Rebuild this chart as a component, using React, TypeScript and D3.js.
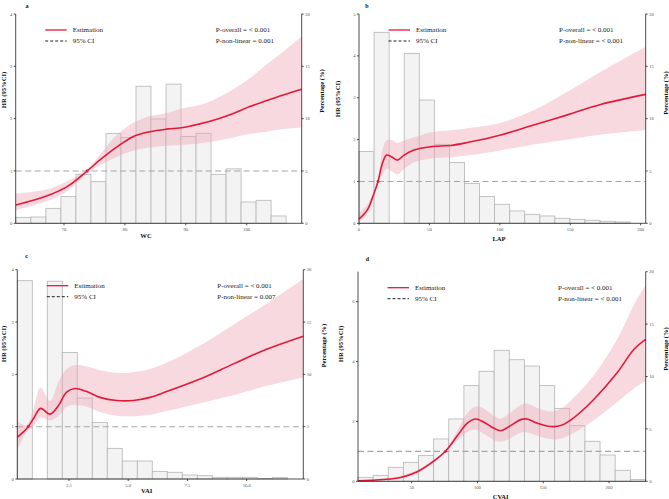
import React, { useEffect, useRef } from 'react';
import * as d3 from 'd3';

// ---- panel a: WC ----
const wcBinStart = 62.1;
const wcBinWidth = 2.465;
const wcPct = [0.57, 0.6, 1.43, 2.55, 4.68, 3.98, 8.57, 8.2, 13.1, 9.97, 13.3, 8.3, 8.6, 4.68, 5.2, 2.04, 2.2, 0.7];
const wcX = [62.1, 66.9, 70.5, 73.7, 75.9, 78.7, 81.4, 84.1, 86.9, 89.6, 92.3, 95.1, 97.8, 100.5, 103.2, 106.0, 109.0];
const wcHR = [0.35, 0.51, 0.7, 0.99, 1.21, 1.46, 1.66, 1.75, 1.8, 1.83, 1.9, 1.99, 2.1, 2.23, 2.34, 2.45, 2.56];
const wcUp = [0.57, 0.64, 0.8, 1.03, 1.31, 1.69, 1.92, 2.05, 2.11, 2.2, 2.26, 2.39, 2.56, 2.77, 3.03, 3.28, 3.57];
const wcLo = [0.25, 0.41, 0.61, 0.94, 1.11, 1.27, 1.39, 1.45, 1.48, 1.5, 1.53, 1.58, 1.64, 1.71, 1.75, 1.8, 1.83];

// ---- panel b: LAP ----
const lapBinStart = 0;
const lapBinWidth = 10.7;
const lapPct = [6.85, 18.25, 0, 16.24, 11.78, 7.55, 5.8, 3.82, 2.55, 1.82, 1.18, 0.86, 0.7, 0.48, 0.38, 0.29, 0.19, 0.13];
const lapX = [0, 5.9, 10.7, 13.5, 16.6, 19.6, 23, 27.2, 32, 39, 50.9, 65, 76.9, 100.6, 124, 148, 171.6, 203.6];
const lapHR = [0.1, 0.32, 0.72, 1.0, 1.43, 1.63, 1.59, 1.51, 1.63, 1.75, 1.83, 1.86, 1.93, 2.11, 2.35, 2.59, 2.84, 3.08];
const lapUp = [0.24, 0.45, 0.78, 1.04, 1.75, 1.98, 1.99, 1.92, 1.98, 2.05, 2.17, 2.22, 2.27, 2.4, 2.7, 3.14, 3.62, 4.22];
const lapLo = [0.04, 0.22, 0.66, 0.97, 1.15, 1.3, 1.25, 1.17, 1.3, 1.46, 1.55, 1.58, 1.62, 1.74, 1.88, 2.0, 2.12, 2.23];

// ---- panel c: VAI ----
const vaiBinStart = 0.32;
const vaiBinWidth = 0.633;
const vaiPct = [18.95, 0, 18.9, 12.1, 7.74, 5.41, 2.93, 1.72, 1.72, 0.73, 0.64, 0.38, 0.32, 0.16, 0.16, 0.16, 0.06, 0.13];
const vaiX = [0.32, 0.71, 1.0, 1.3, 1.7, 2.05, 2.4, 2.75, 3.25, 3.81, 4.51, 5.22, 5.92, 6.62, 8.03, 9.44, 10.84, 12.39];
const vaiHR = [0.8, 0.96, 1.15, 1.35, 1.24, 1.4, 1.66, 1.73, 1.67, 1.56, 1.5, 1.5, 1.56, 1.67, 1.91, 2.2, 2.48, 2.73];
const vaiUp = [1.11, 1.02, 1.35, 1.75, 1.49, 1.85, 2.1, 2.18, 2.15, 2.08, 2.03, 2.04, 2.1, 2.22, 2.55, 2.95, 3.35, 3.82];
const vaiLo = [0.54, 0.9, 1.0, 1.18, 1.12, 1.2, 1.38, 1.42, 1.38, 1.28, 1.21, 1.2, 1.23, 1.3, 1.45, 1.6, 1.78, 1.94];

// ---- panel d: CVAI ----
const cvaiBinStart = 9.2;
const cvaiBinWidth = 11.5;
const cvaiPct = [0.38, 0.57, 1.34, 1.81, 2.45, 4.04, 5.95, 9.13, 10.5, 12.5, 11.6, 11.0, 9.13, 6.96, 5.31, 3.82, 2.51, 1.05, 0.16];
const cvaiX = [9.2, 29, 41.6, 54.3, 67, 75.8, 84.7, 92.3, 98.6, 105, 112.6, 117.6, 125.2, 132.8, 137.9, 145.5, 155.6, 163.2, 173.4, 188.6, 206.3, 219, 227.9];
const cvaiHR = [0.02, 0.06, 0.13, 0.32, 0.68, 1.01, 1.52, 1.94, 2.08, 1.97, 1.77, 1.69, 1.86, 2.06, 2.08, 1.94, 1.83, 1.86, 2.13, 2.74, 3.63, 4.41, 4.74];
const cvaiUp = [0.04, 0.09, 0.18, 0.38, 0.74, 1.03, 1.68, 2.28, 2.5, 2.42, 2.18, 2.1, 2.3, 2.55, 2.6, 2.45, 2.33, 2.42, 2.8, 3.55, 4.75, 5.9, 6.55];
const cvaiLo = [0.01, 0.04, 0.09, 0.27, 0.62, 0.99, 1.36, 1.65, 1.72, 1.58, 1.38, 1.32, 1.45, 1.62, 1.63, 1.52, 1.41, 1.42, 1.62, 2.05, 2.65, 3.1, 3.35];

const pctTicks = [0, 5, 10, 15, 20];

interface PanelCfg {
  letter: string;
  title: string;
  pOverall: string;
  pNonLinear: string;
  xDomain: [number, number];
  xTicks: number[];
  xFmt: (v: number) => string;
  hrMax: number;
  hrTicks: number[];
  refX: number;
  binStart: number;
  binWidth: number;
  pct: number[];
  xs: number[];
  hr: number[];
  up: number[];
  lo: number[];
  // layout
  left: number; right: number; top: number; bottom: number;
  yTitle: [number, number];
  rTitle: [number, number];
  xTitle: [number, number];
  letterPos: [number, number];
}

const panels: PanelCfg[] = [
  {
    letter: 'a', title: 'WC', pOverall: 'P-overall = < 0.001', pNonLinear: 'P-non-linear = 0.001',
    xDomain: [62.07, 109.03], xTicks: [70, 80, 90, 100], xFmt: d3.format('d'),
    hrMax: 4, hrTicks: [0, 1, 2, 3, 4], refX: 73.8,
    binStart: wcBinStart, binWidth: wcBinWidth, pct: wcPct, xs: wcX, hr: wcHR, up: wcUp, lo: wcLo,
    left: 15.7, right: 301.7, top: 14, bottom: 223.3,
    yTitle: [4, 90], rTitle: [321.7, 91], xTitle: [146, 236], letterPos: [27, 6],
  },
  {
    letter: 'b', title: 'LAP', pOverall: 'P-overall = < 0.001', pNonLinear: 'P-non-linear = < 0.001',
    xDomain: [0, 203.6], xTicks: [0, 50, 100, 150, 200], xFmt: d3.format('d'),
    hrMax: 5, hrTicks: [0, 1, 2, 3, 4, 5], refX: 13.5,
    binStart: lapBinStart, binWidth: lapBinWidth, pct: lapPct, xs: lapX, hr: lapHR, up: lapUp, lo: lapLo,
    left: 359, right: 645.7, top: 14, bottom: 223.3,
    yTitle: [337.5, 99], rTitle: [665.5, 93], xTitle: [499, 239], letterPos: [367, 6],
  },
  {
    letter: 'c', title: 'VAI', pOverall: 'P-overall = < 0.001', pNonLinear: 'P-non-linear = 0.007',
    xDomain: [0.32, 12.39], xTicks: [2.5, 5, 7.5, 10], xFmt: d3.format('.1f'),
    hrMax: 4, hrTicks: [0, 1, 2, 3, 4], refX: 0.78,
    binStart: vaiBinStart, binWidth: vaiBinWidth, pct: vaiPct, xs: vaiX, hr: vaiHR, up: vaiUp, lo: vaiLo,
    left: 17.3, right: 303.3, top: 269.7, bottom: 479,
    yTitle: [4, 344], rTitle: [323.3, 345.7], xTitle: [146.7, 490.7], letterPos: [26.7, 255.7],
  },
  {
    letter: 'd', title: 'CVAI', pOverall: 'P-overall = < 0.001', pNonLinear: 'P-non-linear = < 0.001',
    xDomain: [9.2, 227.9], xTicks: [50, 100, 150, 200], xFmt: d3.format('d'),
    hrMax: 7, hrTicks: [0, 2, 4, 6], refX: 75.8,
    binStart: cvaiBinStart, binWidth: cvaiBinWidth, pct: cvaiPct, xs: cvaiX, hr: cvaiHR, up: cvaiUp, lo: cvaiLo,
    left: 358, right: 645.7, top: 271.7, bottom: 481.3,
    yTitle: [341, 344], rTitle: [665.5, 349], xTitle: [500.7, 496.3], letterPos: [367.3, 259],
  },
];

const SERIF = '"Liberation Serif", "Times New Roman", serif';
const RED = '#e3193b';

export default function App() {
  const svgRef = useRef<SVGSVGElement>(null);

  useEffect(() => {
    if (!svgRef.current) return;
    const svg = d3.select(svgRef.current);
    svg.selectAll('*').remove();

    panels.forEach(p => {
      const x = d3.scaleLinear().domain(p.xDomain).range([p.left, p.right]);
      const yHR = d3.scaleLinear().domain([0, p.hrMax]).range([p.bottom, p.top]);
      const yPct = d3.scaleLinear().domain([0, 20]).range([p.bottom, p.top]);
      const g = svg.append('g');

      // histogram
      g.selectAll('.bar')
        .data(p.pct)
        .enter().append('rect')
        .attr('x', (_d, i) => x(p.binStart + i * p.binWidth))
        .attr('width', x(p.binStart + p.binWidth) - x(p.binStart))
        .attr('y', d => yPct(d))
        .attr('height', d => yPct(0) - yPct(d))
        .attr('fill', '#f3f3f3')
        .attr('stroke', d => d > 0 ? '#b5b5b5' : 'none')
        .attr('stroke-width', 0.8);

      // reference line HR = 1
      g.append('line')
        .attr('x1', p.left).attr('x2', p.right)
        .attr('y1', yHR(1)).attr('y2', yHR(1))
        .attr('stroke', '#a6a6a6')
        .attr('stroke-width', 1.1)
        .attr('stroke-dasharray', '6,3.5');

      // CI ribbon
      const idx = d3.range(p.xs.length);
      const area = d3.area<number>()
        .x(i => x(p.xs[i]))
        .y0(i => yHR(p.lo[i]))
        .y1(i => yHR(p.up[i]))
        .curve(d3.curveCatmullRom.alpha(0.5));
      g.append('path')
        .attr('d', area(idx) as string)
        .attr('fill', '#eea5b3')
        .attr('fill-opacity', 0.42);

      // estimate
      const line = d3.line<number>()
        .x(i => x(p.xs[i]))
        .y(i => yHR(p.hr[i]))
        .curve(d3.curveCatmullRom.alpha(0.5));
      g.append('path')
        .attr('d', line(idx) as string)
        .attr('fill', 'none')
        .attr('stroke', RED)
        .attr('stroke-width', 1.6);

      g.append('circle')
        .attr('cx', x(p.refX)).attr('cy', yHR(1))
        .attr('r', 1.4).attr('fill', RED);

      // axes
      const axisG = g.append('g').attr('stroke', '#222').attr('stroke-width', 0.8);
      axisG.append('line').attr('x1', p.left).attr('x2', p.left).attr('y1', p.top).attr('y2', p.bottom);
      axisG.append('line').attr('x1', p.right).attr('x2', p.right).attr('y1', p.top).attr('y2', p.bottom);
      axisG.append('line').attr('x1', p.left).attr('x2', p.right).attr('y1', p.bottom).attr('y2', p.bottom);

      const tickStyle = (sel: any) => sel
        .style('font-family', SERIF)
        .style('font-size', '4.6px')
        .style('fill', '#555');

      // left ticks
      p.hrTicks.forEach(t => {
        axisG.append('line').attr('x1', p.left - 2).attr('x2', p.left).attr('y1', yHR(t)).attr('y2', yHR(t));
        g.append('text')
          .attr('x', p.left - 3.5).attr('y', yHR(t)).attr('dy', '0.35em')
          .attr('text-anchor', 'end')
          .text(t)
          .call(tickStyle);
      });
      // right ticks
      pctTicks.forEach(t => {
        axisG.append('line').attr('x1', p.right).attr('x2', p.right + 2).attr('y1', yPct(t)).attr('y2', yPct(t));
        g.append('text')
          .attr('x', p.right + 3.5).attr('y', yPct(t)).attr('dy', '0.35em')
          .attr('text-anchor', 'start')
          .text(t)
          .call(tickStyle);
      });
      // bottom ticks
      p.xTicks.forEach(t => {
        axisG.append('line').attr('x1', x(t)).attr('x2', x(t)).attr('y1', p.bottom).attr('y2', p.bottom + 2);
        g.append('text')
          .attr('x', x(t)).attr('y', p.bottom + 6).attr('dy', '0.35em')
          .attr('text-anchor', 'middle')
          .text(p.xFmt(t))
          .call(tickStyle);
      });

      const titleStyle = (sel: any) => sel
        .style('font-family', SERIF)
        .style('font-size', '6.6px')
        .style('font-weight', 'bold')
        .style('fill', '#111');

      g.append('text')
        .attr('x', p.xTitle[0]).attr('y', p.xTitle[1]).attr('dy', '0.35em')
        .attr('text-anchor', 'middle')
        .text(p.title)
        .call(titleStyle);
      g.append('text')
        .attr('transform', `translate(${p.yTitle[0]},${p.yTitle[1]}) rotate(-90)`)
        .attr('dy', '0.35em')
        .attr('text-anchor', 'middle')
        .text('HR (95%CI)')
        .call(titleStyle);
      g.append('text')
        .attr('transform', `translate(${p.rTitle[0]},${p.rTitle[1]}) rotate(-90)`)
        .attr('dy', '0.35em')
        .attr('text-anchor', 'middle')
        .text('Percentage (%)')
        .call(titleStyle);
      g.append('text')
        .attr('x', p.letterPos[0]).attr('y', p.letterPos[1]).attr('dy', '0.35em')
        .attr('text-anchor', 'middle')
        .text(p.letter)
        .call(titleStyle)
        .style('font-size', '6px');

      // legend
      const lx = p.left + 29.5;
      const ly = p.top + 16;
      const legStyle = (sel: any) => sel
        .style('font-family', SERIF)
        .style('font-size', '7px')
        .style('fill', '#222');
      g.append('line')
        .attr('x1', lx).attr('x2', lx + 21.5).attr('y1', ly).attr('y2', ly)
        .attr('stroke', RED).attr('stroke-width', 1.3);
      g.append('line')
        .attr('x1', lx).attr('x2', lx + 21.5).attr('y1', ly + 11).attr('y2', ly + 11)
        .attr('stroke', '#222').attr('stroke-width', 1).attr('stroke-dasharray', '3,2');
      g.append('text')
        .attr('x', lx + 27.5).attr('y', ly).attr('dy', '0.35em')
        .text('Estimation').call(legStyle);
      g.append('text')
        .attr('x', lx + 27.5).attr('y', ly + 11).attr('dy', '0.35em')
        .text('95% CI').call(legStyle);

      // p-values
      const px = p.left + 200;
      g.append('text')
        .attr('x', px).attr('y', ly).attr('dy', '0.35em')
        .text(p.pOverall).call(legStyle);
      g.append('text')
        .attr('x', px).attr('y', ly + 11).attr('dy', '0.35em')
        .text(p.pNonLinear).call(legStyle);
    });
  }, []);

  return (
    <svg
      ref={svgRef}
      width={669}
      height={499}
      style={{ position: 'absolute', left: 0, top: 0, background: '#fff' }}
    />
  );
}
